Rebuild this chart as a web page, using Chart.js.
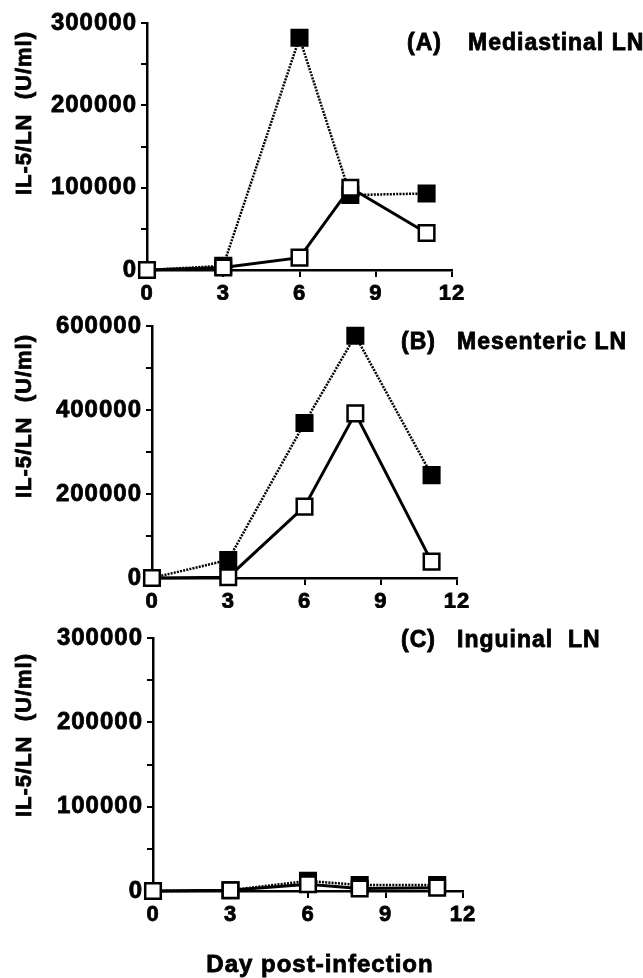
<!DOCTYPE html>
<html>
<head>
<meta charset="utf-8">
<script src="https://cdn.jsdelivr.net/npm/chart.js@4.4.1/dist/chart.umd.min.js"></script>
<style>
body { margin: 0; background: #fff; }
#page { position: relative; width: 643px; height: 978px; }
canvas { position: absolute; left: 0; }
</style>
</head>
<body>
<div id="page">
  <canvas id="chartA" width="643" height="300" style="top:0px"></canvas>
  <canvas id="chartB" width="643" height="308" style="top:300px"></canvas>
  <canvas id="chartC" width="643" height="370" style="top:608px"></canvas>
</div>

<script>
// data
let days = [0, 3, 6, 8, 11];

let mediastinalFilled = [0, 5000, 282000, 91000, 93000];
let mediastinalOpen = [0, 3000, 15000, 100000, 45000];

let mesentericFilled = [0, 43000, 369000, 577000, 245000];
let mesentericOpen = [0, 2000, 170000, 392000, 39000];

let inguinalFilled = [0, 1000, 12000, 7000, 7000];
let inguinalOpen = [0, 1000, 8000, 3000, 4000];

let xTicks = [0, 3, 6, 9, 12];
let yLabels300k = [0, 100000, 200000, 300000];
let yLabels600k = [0, 200000, 400000, 600000];

let yTitle = "IL-5/LN  (U/ml)";
let xTitle = "Day post-infection";

let fontFamily = '"Liberation Sans", Arial, Helvetica, sans-serif';


// axis titles + panel names (drawn so they sit where the figure has them)
const panelText = {
    id: "panelText",

    beforeDraw(chart) {
        chart.ctx.letterSpacing = "1px";
    },

    afterDraw(chart, args, opts) {
        let ctx = chart.ctx;

        function put(txt, x, y) {
            ctx.fillText(txt, x, y);
            ctx.strokeText(txt, x, y); // thicker strokes like the printed figure
        }

        ctx.save();
        ctx.fillStyle = "#000";
        ctx.strokeStyle = "#000";
        ctx.lineWidth = 0.8;
        ctx.letterSpacing = "1px";
        ctx.textBaseline = "middle";

        // rotated y title
        ctx.save();
        ctx.font = "bold 22px " + fontFamily;
        ctx.translate(opts.yTitleX, opts.yTitleY);
        ctx.rotate(-Math.PI / 2);
        ctx.textAlign = "center";
        put(yTitle, 0, 0);
        ctx.restore();

        // panel letter and name
        ctx.font = "bold 23px " + fontFamily;
        ctx.textAlign = "left";
        put(opts.letter, opts.letterX, opts.labelY);
        put(opts.name, opts.nameX, opts.labelY);

        // shared x title under the last panel
        if (opts.xTitle) {
            ctx.font = "bold 24px " + fontFamily;
            ctx.textAlign = "center";
            put(xTitle, opts.xTitleX, opts.xTitleY);
        }

        ctx.restore();
    }
};


function makePanel(id, filled, open, yMax, yStep, yLabels, layout, text) {

    let ctx = document.getElementById(id).getContext("2d");

    return new Chart(ctx, {
        type: "line",
        data: {
            datasets: [
                {
                    label: "open",
                    data: days.map((d, i) => ({ x: d, y: open[i] })),
                    borderColor: "#000",
                    borderWidth: 3,
                    pointStyle: "rect",
                    pointRadius: 11,
                    pointBorderWidth: 2.5,
                    pointBackgroundColor: "#fff",
                    pointBorderColor: "#000",
                    tension: 0,
                    clip: false
                },
                {
                    label: "filled",
                    data: days.map((d, i) => ({ x: d, y: filled[i] })),
                    borderColor: "#000",
                    borderWidth: 2.5,
                    borderDash: [2, 1.2],
                    pointStyle: "rect",
                    pointRadius: 11,
                    pointBorderWidth: 2.5,
                    pointBackgroundColor: "#000",
                    pointBorderColor: "#000",
                    tension: 0,
                    clip: false
                }
            ]
        },

        options: {
            responsive: false,
            animation: false,
            events: [],

            layout: {
                padding: { top: layout.top, right: layout.right, bottom: 0, left: 0 }
            },

            plugins: {
                legend: { display: false },
                tooltip: { enabled: false },
                panelText: text
            },

            scales: {
                x: {
                    type: "linear",
                    min: 0,
                    max: 12,
                    afterBuildTicks: (scale) => {
                        scale.ticks = xTicks.map(v => ({ value: v }));
                    },
                    afterFit: (scale) => {
                        scale.height = layout.xHeight;
                    },
                    border: { display: true, color: "#000", width: 2.5 },
                    grid: {
                        drawOnChartArea: false,
                        drawTicks: true,
                        tickLength: 7,
                        lineWidth: 2,
                        color: "#000"
                    },
                    ticks: {
                        color: "#000",
                        padding: 4,
                        maxRotation: 0,
                        textStrokeColor: "#000",
                        textStrokeWidth: 0.8,
                        font: { family: fontFamily, size: 22, weight: "bold" }
                    }
                },

                y: {
                    min: 0,
                    max: yMax,
                    afterBuildTicks: (scale) => {
                        let t = [];
                        for (let v = 0; v <= yMax; v += yStep) t.push({ value: v });
                        scale.ticks = t;
                    },
                    afterFit: (scale) => {
                        scale.width = layout.left;
                    },
                    border: { display: true, color: "#000", width: 2.5 },
                    grid: {
                        drawOnChartArea: false,
                        drawTicks: true,
                        tickLength: 6,
                        lineWidth: 2,
                        color: "#000"
                    },
                    ticks: {
                        color: "#000",
                        padding: 4,
                        textStrokeColor: "#000",
                        textStrokeWidth: 0.8,
                        callback: (v) => yLabels.includes(v) ? String(v) : "",
                        font: { family: fontFamily, size: 24, weight: "bold" }
                    }
                }
            }
        },

        plugins: [panelText]
    });
}


makePanel("chartA", mediastinalFilled, mediastinalOpen, 300000, 50000, yLabels300k,
    { top: 23, right: 191, left: 147, xHeight: 30 },
    { yTitleX: 25, yTitleY: 113, letter: "(A)", name: "Mediastinal LN", letterX: 407, nameX: 468, labelY: 44 });

makePanel("chartB", mesentericFilled, mesentericOpen, 600000, 100000, yLabels600k,
    { top: 26, right: 186, left: 152, xHeight: 30 },
    { yTitleX: 25, yTitleY: 116, letter: "(B)", name: "Mesenteric LN", letterX: 401, nameX: 457, labelY: 43 });

makePanel("chartC", inguinalFilled, inguinalOpen, 300000, 50000, yLabels300k,
    { top: 30, right: 180, left: 153, xHeight: 87 },
    { yTitleX: 25, yTitleY: 127, letter: "(C)", name: "Inguinal  LN", letterX: 401, nameX: 457, labelY: 33,
      xTitle: true, xTitleX: 320, xTitleY: 357 });

</script>
</body>
</html>
